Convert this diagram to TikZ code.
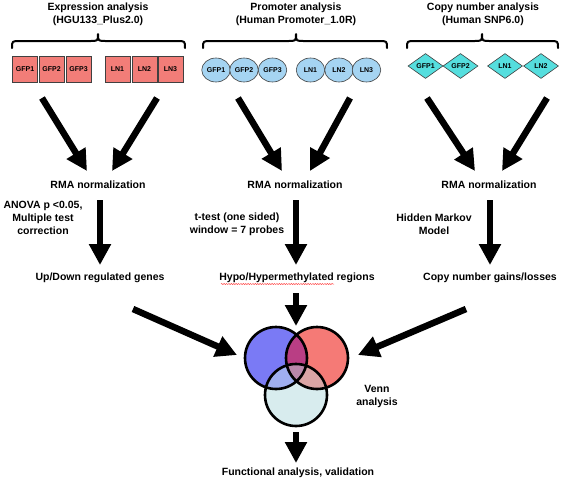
\documentclass[tikz,border=0pt]{standalone}
\usepackage{fontspec}
\setmainfont{Liberation Sans}
\usetikzlibrary{arrows.meta,shapes.geometric,decorations.pathmorphing}
\definecolor{boxred}{RGB}{242,125,120}
\definecolor{ellblue}{RGB}{165,212,242}
\definecolor{diacyan}{RGB}{85,222,222}
\definecolor{vblue}{RGB}{122,122,245}
\definecolor{vred}{RGB}{245,122,118}
\definecolor{vcyan}{RGB}{216,236,238}
\definecolor{vbr}{RGB}{185,62,132}
\definecolor{vbc}{RGB}{160,175,240}
\definecolor{vrc}{RGB}{218,165,165}
\definecolor{vall}{RGB}{185,135,170}
\begin{document}
\begin{tikzpicture}[x=1pt,y=-1pt,
  lbl/.style={font=\bfseries\fontsize{10.5}{13}\selectfont, align=center, inner sep=0},
  sample/.style={font=\bfseries\fontsize{7}{8}\selectfont, inner sep=0, draw=black!75, line width=0.6pt},
  redbox/.style={sample, rectangle, fill=boxred, minimum width=25pt, minimum height=26pt},
  bluell/.style={sample, ellipse, fill=ellblue, minimum width=28.5pt, minimum height=24pt},
  cyandia/.style={sample, diamond, fill=diacyan, minimum width=35pt, minimum height=25pt},
  bigarrow/.style={line width=6.5pt, -{Triangle[width=21pt,length=21pt]}},
  bracepath/.style={line width=2pt, line cap=round, line join=round},
  vennline/.style={line width=2.6pt}
]
\useasboundingbox (0,0) rectangle (563,483);
\fill[white] (0,0) rectangle (563,483);

% titles
\node[lbl] (title1) at (98,14) {Expression analysis\\(HGU133\_Plus2.0)};
\node[lbl] (title2) at (296,14) {Promoter analysis\\(Human Promoter\_1.0R)};
\node[lbl] (title3) at (483,14) {Copy number analysis\\(Human SNP6.0)};

% braces
\draw[bracepath] (12,48) .. controls (12,41) .. (20,41) -- (90,41) .. controls (98,41) .. (98,34) .. controls (98,41) .. (106,41) -- (177,41) .. controls (185,41) .. (185,48);
\draw[bracepath] (203,48) .. controls (203,41) .. (211,41) -- (288,41) .. controls (296,41) .. (296,34) .. controls (296,41) .. (304,41) -- (379,41) .. controls (387,41) .. (387,48);
\draw[bracepath] (407,48) .. controls (407,41) .. (415,41) -- (474,41) .. controls (482,41) .. (482,34) .. controls (482,41) .. (490,41) -- (550,41) .. controls (558,41) .. (558,48);

% samples
\node[redbox] (e1) at (25,69) {GFP1};
\node[redbox] (e2) at (51.5,69) {GFP2};
\node[redbox] (e3) at (78.5,69) {GFP3};
\node[redbox] (e4) at (117.5,69) {LN1};
\node[redbox] (e5) at (144.5,69) {LN2};
\node[redbox] (e6) at (170.5,69) {LN3};

\node[bluell] (p1) at (216,70) {GFP1};
\node[bluell] (p2) at (244,70) {GFP2};
\node[bluell] (p3) at (272.5,70) {GFP3};
\node[bluell] (p4) at (310.5,70) {LN1};
\node[bluell] (p5) at (339,70) {LN2};
\node[bluell] (p6) at (366.5,70) {LN3};

\node[cyandia] (c1) at (425.5,66) {GFP1};
\node[cyandia] (c2) at (460.5,66) {GFP2};
\node[cyandia] (c3) at (505,66) {LN1};
\node[cyandia] (c4) at (541,66) {LN2};

% RMA
\node[lbl] (rma1) at (98,185) {RMA normalization};
\node[lbl] (rma2) at (295,185) {RMA normalization};
\node[lbl] (rma3) at (489,185) {RMA normalization};

\coordinate (a1s) at (42,98);  \coordinate (a1e) at (87,171);
\coordinate (b1s) at (157,98); \coordinate (b1e) at (112,171);
\coordinate (a2s) at (238,98); \coordinate (a2e) at (282,171);
\coordinate (b2s) at (350,98); \coordinate (b2e) at (310,171);
\coordinate (a3s) at (427,98); \coordinate (a3e) at (475,171);
\coordinate (b3s) at (547,98); \coordinate (b3e) at (502,171);
\draw[bigarrow] (a1s) -- (a1e);
\draw[bigarrow] (b1s) -- (b1e);
\draw[bigarrow] (a2s) -- (a2e);
\draw[bigarrow] (b2s) -- (b2e);
\draw[bigarrow] (a3s) -- (a3e);
\draw[bigarrow] (b3s) -- (b3e);

% side labels
\node[lbl] (anova) at (43,218) {ANOVA p <0.05,\\Multiple test\\correction};
\node[lbl] (ttest) at (237,224) {t-test (one sided)\\window = 7 probes};
\node[lbl] (hmm) at (434,224) {Hidden Markov\\Model};

% results
\node[lbl] (res1) at (100,278) {Up/Down regulated genes};
\node[lbl] (res2) at (297,278) {Hypo/Hypermethylated regions};
\node[lbl] (res3) at (490,278) {Copy number gains/losses};
\draw[red, opacity=0.7, line width=0.5pt, decorate, decoration={snake, amplitude=0.6pt, segment length=2.4pt}] (221,284) -- (334,284);

\coordinate (v1s) at (100,200); \coordinate (v1e) at (100,265);
\coordinate (v2s) at (296,200); \coordinate (v2e) at (296,265);
\coordinate (v3s) at (490,200); \coordinate (v3e) at (490,265);
\draw[bigarrow] (v1s) -- (v1e);
\draw[bigarrow] (v2s) -- (v2e);
\draw[bigarrow] (v3s) -- (v3e);

% arrows into Venn
\coordinate (l1s) at (133,309); \coordinate (l1e) at (237,355);
\coordinate (r1s) at (466,309); \coordinate (r1e) at (358,355);
\coordinate (t1s) at (296,293); \coordinate (t1e) at (296,326);
\draw[bigarrow] (l1s) -- (l1e);
\draw[bigarrow] (r1s) -- (r1e);
\draw[bigarrow] (t1s) -- (t1e);

% Venn
\coordinate (cb) at (276,358);
\coordinate (cr) at (317,358);
\coordinate (cc) at (296,395);
\fill[vblue] (cb) circle[radius=31pt];
\fill[vred] (cr) circle[radius=31pt];
\fill[vcyan] (cc) circle[radius=31pt];
\begin{scope}
  \clip (cb) circle[radius=31pt];
  \fill[vbr] (cr) circle[radius=31pt];
  \fill[vbc] (cc) circle[radius=31pt];
\end{scope}
\begin{scope}
  \clip (cr) circle[radius=31pt];
  \fill[vrc] (cc) circle[radius=31pt];
  \clip (cb) circle[radius=31pt];
  \fill[vall] (cc) circle[radius=31pt];
\end{scope}
\draw[vennline] (cb) circle[radius=31pt];
\draw[vennline] (cr) circle[radius=31pt];
\draw[vennline] (cc) circle[radius=31pt];

\node[lbl] (vlabel) at (377,396) {Venn\\analysis};

\coordinate (f1s) at (296,432); \coordinate (f1e) at (296,463);
\draw[bigarrow] (f1s) -- (f1e);
\node[lbl] (func) at (298,473) {Functional analysis, validation};
\end{tikzpicture}
\end{document}
